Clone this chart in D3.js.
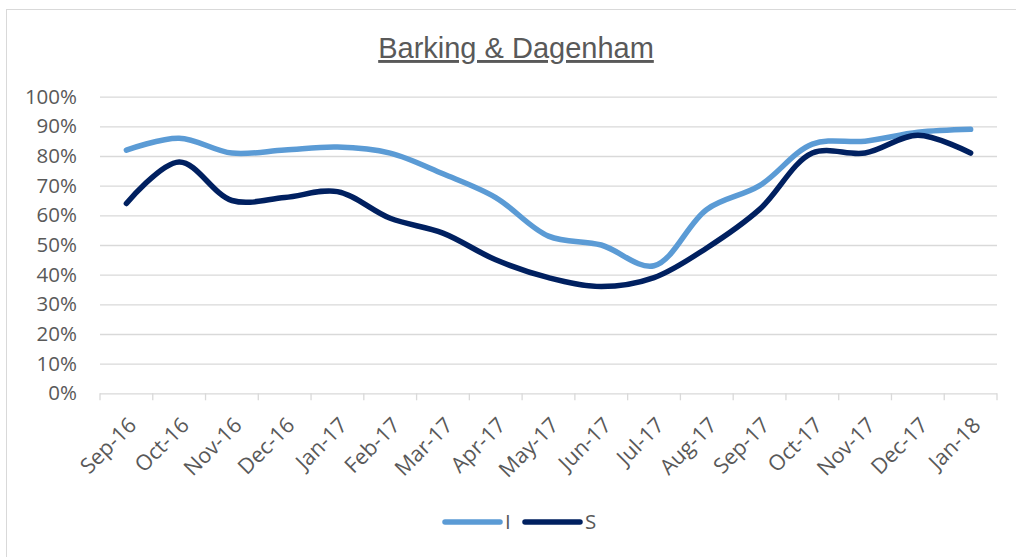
<!DOCTYPE html>
<html>
<head>
<meta charset="utf-8">
<script src="https://cdn.jsdelivr.net/npm/d3@7"></script>
<style>
  html, body { margin: 0; padding: 0; background: #fff; }
  svg { display: block; }
</style>
</head>
<body>
<div id="chart"></div>
<script>
const months = ["Sep-16", "Oct-16", "Nov-16", "Dec-16", "Jan-17", "Feb-17", "Mar-17", "Apr-17",
  "May-17", "Jun-17", "Jul-17", "Aug-17", "Sep-17", "Oct-17", "Nov-17", "Dec-17", "Jan-18"];
const seriesI = [0.82, 0.86, 0.81, 0.82, 0.83, 0.81, 0.74, 0.66, 0.53, 0.50, 0.43, 0.62, 0.70, 0.84, 0.85, 0.88, 0.89];
const seriesS = [0.64, 0.78, 0.65, 0.66, 0.68, 0.59, 0.54, 0.45, 0.39, 0.36, 0.39, 0.49, 0.62, 0.81, 0.81, 0.87, 0.81];
const yTicks = [0, 0.1, 0.2, 0.3, 0.4, 0.5, 0.6, 0.7, 0.8, 0.9, 1.0];

const width = 1016, height = 557;
const margin = { top: 96.7, right: 19, bottom: 163.7, left: 100 };
const innerW = width - margin.left - margin.right;
const innerH = height - margin.top - margin.bottom;

const svg = d3.select("#chart")
  .append("svg")
  .attr("width", width)
  .attr("height", height);

// chart frame
svg.append("rect")
  .attr("x", 6.5).attr("y", 9.5)
  .attr("width", width).attr("height", height + 10)
  .attr("fill", "#fff")
  .attr("stroke", "#d9d9d9");

svg.append("text")
  .attr("x", 516)
  .attr("y", 58)
  .attr("text-anchor", "middle")
  .attr("font-family", "Liberation Sans, Arial, sans-serif")
  .attr("font-size", 29)
  .attr("fill", "#595959")
  .attr("text-decoration", "underline")
  .text("Barking & Dagenham");

const g = svg.append("g")
  .attr("transform", `translate(${margin.left},${margin.top})`);

const x = d3.scaleBand().domain(months).range([0, innerW]).padding(0);
const y = d3.scaleLinear().domain([0, 1]).range([innerH, 0]);

const yAxis = g.append("g")
  .call(d3.axisLeft(y).tickValues(yTicks).tickFormat(d3.format(".0%"))
    .tickSize(-innerW).tickPadding(23));
yAxis.select(".domain").remove();
yAxis.selectAll(".tick line").attr("stroke", "#d9d9d9").attr("stroke-width", 1.3);
yAxis.selectAll(".tick text")
  .attr("fill", "#595959")
  .attr("font-family", "Open Sans, sans-serif")
  .attr("font-size", 20.5);

// category tick marks between bands
const bounds = months.map(m => x(m)).concat([innerW]);
g.selectAll(".xtick")
  .data(bounds)
  .join("line")
  .attr("class", "xtick")
  .attr("x1", d => d).attr("x2", d => d)
  .attr("y1", innerH).attr("y2", innerH + 7)
  .attr("stroke", "#d9d9d9")
  .attr("stroke-width", 1.3);

g.selectAll(".xlabel")
  .data(months)
  .join("text")
  .attr("class", "xlabel")
  .attr("transform", d => `translate(${x(d) + x.bandwidth() / 2 + 6},${innerH + 28}) rotate(-45)`)
  .attr("dy", "0.35em")
  .attr("text-anchor", "end")
  .attr("fill", "#595959")
  .attr("font-family", "Open Sans, sans-serif")
  .attr("font-size", 21.5)
  .text(d => d);

const line = d3.line()
  .x((d, i) => x(months[i]) + x.bandwidth() / 2)
  .y(d => y(d))
  .curve(d3.curveCatmullRom.alpha(0.5));

const series = [
  { name: "I", values: seriesI, color: "#5b9bd5" },
  { name: "S", values: seriesS, color: "#002060" }
];

g.selectAll(".series")
  .data(series)
  .join("path")
  .attr("class", "series")
  .attr("fill", "none")
  .attr("stroke", d => d.color)
  .attr("stroke-width", 5.5)
  .attr("stroke-linecap", "round")
  .attr("stroke-linejoin", "round")
  .attr("d", d => line(d.values));

// legend
const legend = svg.append("g").attr("transform", "translate(445,522)");
const item = legend.selectAll("g")
  .data(series)
  .join("g")
  .attr("transform", (d, i) => `translate(${i * 80},0)`);
item.append("line")
  .attr("x1", 0).attr("x2", 55)
  .attr("stroke", d => d.color)
  .attr("stroke-width", 5.5)
  .attr("stroke-linecap", "round");
item.append("text")
  .attr("x", 60)
  .attr("dy", "0.35em")
  .attr("fill", "#595959")
  .attr("font-family", "Open Sans, sans-serif")
  .attr("font-size", 20.5)
  .text(d => d.name);
</script>
</body>
</html>
